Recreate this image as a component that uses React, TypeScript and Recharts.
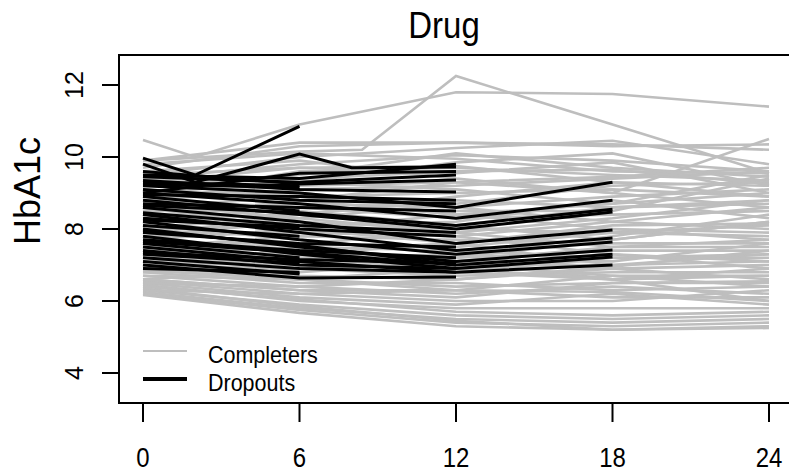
import React from 'react';
import { LineChart, Line, XAxis, YAxis, ReferenceArea, Legend } from 'recharts';

const monthTicks = [0, 6, 12, 18, 24];
const hba1cTicks = [4, 6, 8, 10, 12];
const visitMonths = [0, 6, 12, 18, 24];

// completers: HbA1c at months 0, 6, 12, 18, 24
const completers = [
  [9.6, 9.9, 9.4, 9.0, 10.5],
  [9.7, 10.3, 10.4, 10.3, 10.35],
  [9.5, 10.0, 10.25, 10.45, 9.8],
  [9.4, 9.8, 10.05, 9.9, 9.6],
  [9.2, 9.5, 10.1, 9.7, 9.45],
  [9.0, 9.3, 9.85, 10.1, 9.2],
  [8.9, 9.6, 9.7, 9.5, 9.35],
  [9.3, 9.7, 9.55, 9.85, 9.0],
  [8.8, 9.1, 9.2, 9.4, 9.6],
  [8.6, 8.9, 9.0, 9.1, 8.9],
  [8.5, 8.7, 8.6, 8.9, 9.1],
  [8.3, 8.4, 8.8, 8.6, 8.7],
  [8.2, 8.6, 8.3, 8.4, 8.5],
  [8.0, 8.1, 8.2, 8.8, 8.3],
  [7.9, 7.9, 7.8, 8.2, 8.0],
  [7.8, 8.2, 8.0, 7.9, 8.1],
  [7.6, 7.6, 7.5, 7.9, 7.8],
  [7.5, 7.8, 7.7, 7.6, 7.6],
  [7.4, 7.3, 7.2, 7.4, 7.4],
  [7.3, 7.5, 7.4, 7.2, 7.2],
  [7.2, 7.0, 7.0, 7.0, 7.1],
  [7.1, 7.2, 6.9, 7.3, 6.9],
  [7.0, 6.9, 6.7, 6.8, 6.8],
  [6.9, 6.7, 6.6, 6.9, 6.6],
  [6.85, 6.6, 6.4, 6.5, 6.5],
  [6.8, 6.5, 6.5, 6.3, 6.4],
  [6.7, 6.4, 6.2, 6.4, 6.2],
  [6.6, 6.3, 6.3, 6.1, 6.1],
  [6.55, 6.2, 6.0, 6.0, 6.3],
  [6.5, 6.1, 5.9, 6.2, 5.9],
  [6.45, 6.0, 5.8, 5.8, 5.8],
  [6.4, 6.05, 5.7, 5.6, 5.7],
  [6.3, 5.9, 5.6, 5.5, 5.6],
  [6.25, 5.8, 5.5, 5.4, 5.5],
  [6.2, 5.75, 5.4, 5.3, 5.4],
  [6.17, 5.67, 5.3, 5.2, 5.25],
  [6.35, 5.85, 5.45, 5.2, 5.3],
  [7.7, 7.4, 7.1, 6.6, 6.7],
  [8.1, 7.7, 7.3, 6.9, 7.0],
  [8.4, 8.0, 7.6, 7.0, 7.3],
  [8.7, 8.3, 7.9, 7.5, 7.5],
  [9.1, 8.8, 8.4, 8.0, 7.7],
  [7.6, 7.1, 6.8, 6.6, 6.0],
  [8.0, 7.5, 7.0, 6.7, 6.4],
  [8.5, 8.5, 8.1, 7.7, 8.2],
  [9.0, 9.0, 8.6, 8.2, 8.6],
  [7.3, 7.6, 7.9, 8.3, 8.8],
  [6.9, 7.2, 7.3, 7.8, 8.4],
  [8.8, 8.6, 8.5, 8.5, 9.4],
  [9.4, 9.3, 9.1, 8.7, 9.0],
  [7.0, 6.8, 7.1, 7.1, 7.6],
  [6.6, 6.9, 6.8, 7.2, 7.3],
  [9.8, 10.1, 9.95, 9.6, 9.55],
  [9.9, 10.4, 10.4, 10.35, 10.2],
  [7.9, 8.3, 8.7, 9.2, 9.3],
  [7.5, 7.4, 7.6, 8.0, 7.9],
  [6.7, 6.6, 6.9, 6.6, 6.9],
  [8.6, 8.0, 7.8, 7.3, 7.1],
  [9.5, 9.7, 9.75, 9.3, 8.9],
  [8.3, 8.8, 9.3, 9.0, 8.6],
  [7.7, 8.0, 8.4, 8.7, 9.5],
  [7.1, 7.0, 7.2, 7.7, 8.2],
  [8.0, 8.4, 8.9, 9.3, 9.2],
  [7.8, 7.9, 8.1, 8.6, 8.8],
  [7.2, 7.3, 7.6, 8.1, 8.15],
  [6.8, 6.9, 7.1, 7.5, 7.7],
  [6.5, 6.4, 6.6, 6.95, 7.4],
  [6.3, 6.2, 6.3, 6.7, 6.7],
  [6.6, 6.3, 6.1, 6.5, 6.55],
  [7.0, 6.6, 6.3, 6.25, 6.0],
  [8.9, 9.2, 9.3, 9.45, 9.7],
  [9.2, 9.4, 9.6, 9.65, 9.25],
];

// completers with visits between the scheduled months: [month, HbA1c]
const completersExtra = [
  [[0, 10.47], [2, 10.0], [6, 10.9], [12, 11.8], [18, 11.75], [24, 11.4]],
  [[0, 9.9], [6, 10.15], [8.4, 10.2], [12, 12.25], [18, 10.9], [24, 9.55]],
];

// dropouts: HbA1c at months 0, 6, 12, 18 until they leave
const dropouts = [
  [9.6, 9.25, 9.36],
  [9.5, 9.4, 9.8],
  [9.35, 9.1, 9.03],
  [9.2, 9.0, 8.6, 9.3],
  [9.1, 8.8, 8.7],
  [9.0, 8.7, 8.3, 8.8],
  [8.9, 8.5],
  [8.8, 8.4, 8.0, 8.47],
  [8.7, 8.6, 8.5],
  [8.6, 8.2, 7.6, 7.97],
  [8.4, 7.9, 7.4, 7.75],
  [8.3, 8.0, 7.8],
  [8.2, 7.7, 7.3, 7.64],
  [8.1, 7.8],
  [8.0, 7.5, 7.1, 7.42],
  [7.9, 7.6, 7.5],
  [7.8, 7.3, 6.9, 7.22],
  [7.7, 7.4, 7.2],
  [7.6, 7.2],
  [7.5, 7.1, 6.8, 7.0],
  [7.4, 7.0, 6.9],
  [7.3, 7.05],
  [7.2, 6.9, 6.8],
  [7.0, 6.64, 6.67],
  [6.9, 6.8],
  [9.3, 9.2],
  [9.0, 9.55, 9.6],
  [9.45, 9.3, 9.5],
  [9.25, 9.15],
  [8.95, 8.9, 8.8],
  [8.65, 8.45, 8.1, 8.55],
  [8.45, 8.1, 7.9],
  [8.25, 8.05],
  [7.95, 7.55, 7.0, 7.3],
  [7.65, 7.35, 7.0],
  [7.35, 7.15, 7.05],
  [7.1, 6.75],
];

const dropoutsExtra = [
  [[0, 9.97], [2, 9.5], [6, 10.85]],
  [[0, 9.8], [2, 9.3], [6, 10.08], [8, 9.7], [12, 9.72]],
];

const GREY = '#bebebe';
const FONT = '"Liberation Sans", Arial, Helvetica, sans-serif';

const fromRow = (row: number[]) => row.map((v, i) => ({ month: visitMonths[i], hba1c: v }));
const fromPairs = (row: number[][]) => row.map(([m, v]) => ({ month: m, hba1c: v }));

const greySeries = [...completers.map(fromRow), ...completersExtra.map(fromPairs)];
const blackSeries = [...dropouts.map(fromRow), ...dropoutsExtra.map(fromPairs)];

const XTick = (props: any) => {
  const { x, payload } = props;
  return (
    <text x={0} y={0} transform={`translate(${x},467) scale(1,1.12)`} textAnchor="middle"
      fontSize={24} fontFamily={FONT} fill="#000">
      {payload.value}
    </text>
  );
};

const YTick = (props: any) => {
  const { y, payload } = props;
  return (
    <text x={0} y={0} transform={`translate(83,${y}) rotate(-90)`} textAnchor="middle"
      fontSize={25} fontFamily={FONT} fill="#000">
      {payload.value}
    </text>
  );
};

const renderLegend = () => (
  <svg width={200} height={70}>
    <line x1={13} x2={57} y1={16} y2={16} stroke={GREY} strokeWidth={2} />
    <line x1={13} x2={57} y1={44} y2={44} stroke="#000" strokeWidth={4} />
    <text x={0} y={0} transform="translate(78,28) scale(1,1.12)" fontSize={21.5} fontFamily={FONT} fill="#000">Completers</text>
    <text x={0} y={0} transform="translate(78,56) scale(1,1.12)" fontSize={21.5} fontFamily={FONT} fill="#000">Dropouts</text>
  </svg>
);

export default function App() {
  return (
    <div style={{ position: 'absolute', left: 0, top: 0, width: 789, height: 473, overflow: 'hidden', background: '#fff' }}>
      <LineChart width={800} height={473} margin={{ top: 55, right: 7, bottom: 0, left: 0 }}>
        <XAxis dataKey="month" type="number" domain={[-0.92, 24.92]} ticks={monthTicks}
          height={70} axisLine={false} tickSize={19} tickLine={{ stroke: '#000', strokeWidth: 2 }}
          tick={<XTick />} interval={0} allowDataOverflow />
        <YAxis type="number" domain={[3.167, 12.833]} ticks={hba1cTicks} width={119}
          axisLine={false} tickSize={17} tickLine={{ stroke: '#000', strokeWidth: 2 }}
          tick={<YTick />} interval={0} allowDataOverflow />
        {greySeries.map((pts, i) => (
          <Line key={`c${i}`} data={pts} dataKey="hba1c" type="linear" stroke={GREY}
            strokeWidth={2.6} dot={false} activeDot={false} legendType="none" isAnimationActive={false} />
        ))}
        {blackSeries.map((pts, i) => (
          <Line key={`d${i}`} data={pts} dataKey="hba1c" type="linear" stroke="#000"
            strokeWidth={3} dot={false} activeDot={false} legendType="none" isAnimationActive={false} />
        ))}
        <ReferenceArea x1={-0.92} x2={24.92} y1={3.167} y2={12.833} fill="none" fillOpacity={0}
          stroke="#000" strokeWidth={2} />
        <Legend layout="vertical" align="center" verticalAlign="middle" content={renderLegend}
          wrapperStyle={{ left: 130, top: 335, width: 200, height: 70 }} />
      </LineChart>
      <svg width={789} height={473} style={{ position: 'absolute', left: 0, top: 0, pointerEvents: 'none' }}>
        <text x={0} y={0} transform="translate(444,38) scale(1,1.12)" textAnchor="middle"
          fontSize={33} fontFamily={FONT} fill="#000">Drug</text>
        <text x={0} y={0} transform="translate(40,191) rotate(-90)" textAnchor="middle"
          fontSize={36} fontFamily={FONT} fill="#000">HbA1c</text>
      </svg>
    </div>
  );
}
